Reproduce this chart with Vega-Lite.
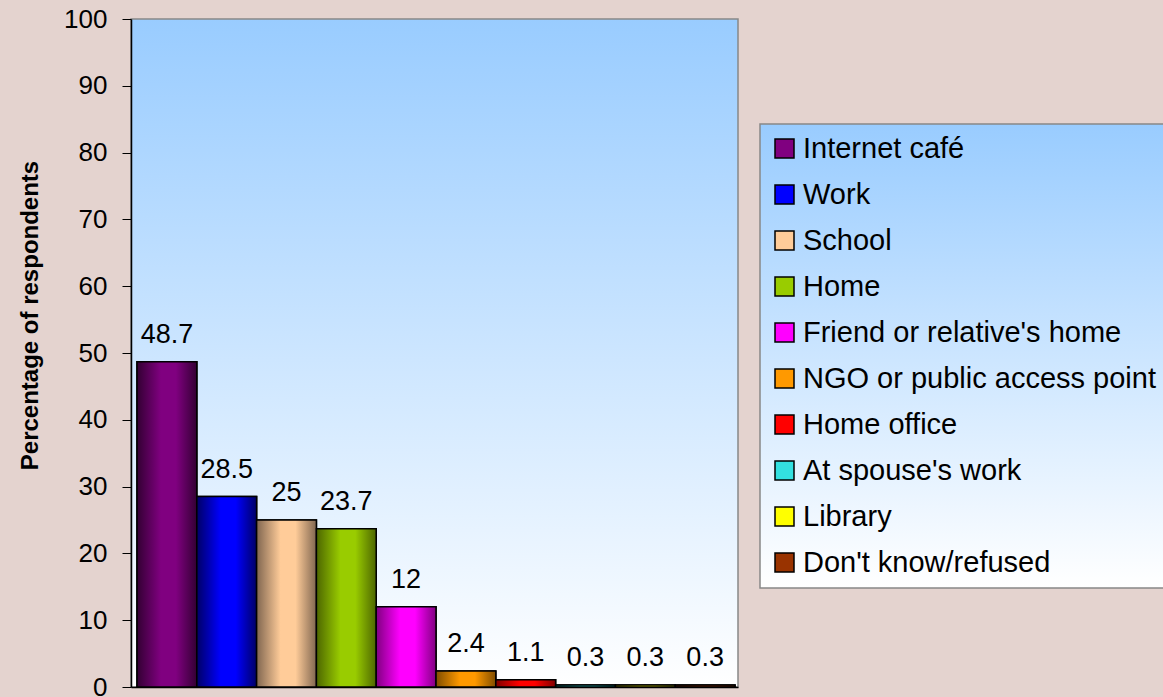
{
  "$schema": "https://vega.github.io/schema/vega-lite/v6.json",
  "autosize": "none",
  "width": 607,
  "height": 668,
  "padding": {"left": 131, "top": 19, "right": 425, "bottom": 10},
  "background": "#e4d3cf",
  "data": {
    "values": [
      {"place": "Internet café", "value": 48.7},
      {"place": "Work", "value": 28.5},
      {"place": "School", "value": 25},
      {"place": "Home", "value": 23.7},
      {"place": "Friend or relative's home", "value": 12},
      {"place": "NGO or public access point", "value": 2.4},
      {"place": "Home office", "value": 1.1},
      {"place": "At spouse's work", "value": 0.3},
      {"place": "Library", "value": 0.3},
      {"place": "Don't know/refused", "value": 0.3}
    ]
  },
  "encoding": {
    "x": {
      "field": "place",
      "type": "nominal",
      "sort": null,
      "scale": {"paddingInner": 0, "paddingOuter": 0.075, "align": 0.67},
      "axis": {"labels": false, "ticks": false, "title": null, "domainColor": "black", "domainWidth": 1.5}
    },
    "y": {
      "field": "value",
      "type": "quantitative",
      "scale": {"domain": [0, 100], "nice": false},
      "axis": {
        "values": [0, 10, 20, 30, 40, 50, 60, 70, 80, 90, 100],
        "title": "Percentage of respondents",
        "titleFont": "Liberation Sans",
        "titleFontSize": 24,
        "titleFontWeight": "bold",
        "titleColor": "black",
        "titlePadding": 21,
        "titleY": 296,
        "labelFont": "Liberation Sans",
        "labelFontSize": 26,
        "labelColor": "black",
        "labelPadding": 15,
        "tickSize": 9,
        "tickColor": "black",
        "domainColor": "black",
        "domainWidth": 1.5,
        "grid": false
      }
    }
  },
  "layer": [
    {
      "mark": {"type": "bar", "stroke": "black", "strokeWidth": 1.5},
      "encoding": {
        "color": {
          "field": "place",
          "type": "nominal",
          "scale": {
            "domain": ["Internet café", "Work", "School", "Home", "Friend or relative's home", "NGO or public access point", "Home office", "At spouse's work", "Library", "Don't know/refused"],
            "range": ["#800080", "#0000ff", "#ffcc99", "#99cc00", "#ff00ff", "#ff9900", "#ff0000", "#33e0e0", "#ffff00", "#993300"]
          },
          "legend": {
            "title": null,
            "orient": "none",
            "legendX": 629,
            "legendY": 105,
            "symbolType": "square",
            "symbolSize": 361,
            "symbolStrokeColor": "black",
            "symbolStrokeWidth": 1.5,
            "symbolOpacity": 1,
            "labelFont": "Liberation Sans",
            "labelFontSize": 29,
            "labelColor": "black",
            "labelOffset": 4,
            "labelLimit": 500,
            "rowPadding": 16,
            "padding": 10,
            "strokeColor": "#888888",
            "encode": {
              "legend": {
                "update": {
                  "fill": {"value": {"gradient": "linear", "x1": 0, "y1": 0, "x2": 0, "y2": 1, "stops": [{"offset": 0, "color": "#99ccff"}, {"offset": 1, "color": "#ffffff"}]}},
                  "stroke": {"value": "#888888"},
                  "strokeWidth": {"value": 1.5}
                }
              }
            }
          }
        }
      }
    },
    {
      "transform": [{"filter": {"field": "place", "equal": "Internet café"}}],
      "mark": {"type": "bar", "stroke": "black", "strokeWidth": 1.5, "fill": {"gradient": "linear", "x1": 0, "y1": 0, "x2": 1, "y2": 0, "stops": [{"offset": 0, "color": "#330033"}, {"offset": 0.4, "color": "#800080"}, {"offset": 0.65, "color": "#800080"}, {"offset": 1, "color": "#330033"}]}}
    },
    {
      "transform": [{"filter": {"field": "place", "equal": "Work"}}],
      "mark": {"type": "bar", "stroke": "black", "strokeWidth": 1.5, "fill": {"gradient": "linear", "x1": 0, "y1": 0, "x2": 1, "y2": 0, "stops": [{"offset": 0, "color": "#000066"}, {"offset": 0.4, "color": "#0000ff"}, {"offset": 0.65, "color": "#0000ff"}, {"offset": 1, "color": "#000066"}]}}
    },
    {
      "transform": [{"filter": {"field": "place", "equal": "School"}}],
      "mark": {"type": "bar", "stroke": "black", "strokeWidth": 1.5, "fill": {"gradient": "linear", "x1": 0, "y1": 0, "x2": 1, "y2": 0, "stops": [{"offset": 0, "color": "#806650"}, {"offset": 0.4, "color": "#ffcc99"}, {"offset": 0.65, "color": "#ffcc99"}, {"offset": 1, "color": "#806650"}]}}
    },
    {
      "transform": [{"filter": {"field": "place", "equal": "Home"}}],
      "mark": {"type": "bar", "stroke": "black", "strokeWidth": 1.5, "fill": {"gradient": "linear", "x1": 0, "y1": 0, "x2": 1, "y2": 0, "stops": [{"offset": 0, "color": "#4d6600"}, {"offset": 0.4, "color": "#99cc00"}, {"offset": 0.65, "color": "#99cc00"}, {"offset": 1, "color": "#4d6600"}]}}
    },
    {
      "transform": [{"filter": {"field": "place", "equal": "Friend or relative's home"}}],
      "mark": {"type": "bar", "stroke": "black", "strokeWidth": 1.5, "fill": {"gradient": "linear", "x1": 0, "y1": 0, "x2": 1, "y2": 0, "stops": [{"offset": 0, "color": "#800080"}, {"offset": 0.4, "color": "#ff00ff"}, {"offset": 0.65, "color": "#ff00ff"}, {"offset": 1, "color": "#800080"}]}}
    },
    {
      "transform": [{"filter": {"field": "place", "equal": "NGO or public access point"}}],
      "mark": {"type": "bar", "stroke": "black", "strokeWidth": 1.5, "fill": {"gradient": "linear", "x1": 0, "y1": 0, "x2": 1, "y2": 0, "stops": [{"offset": 0, "color": "#804d00"}, {"offset": 0.4, "color": "#ff9900"}, {"offset": 0.65, "color": "#ff9900"}, {"offset": 1, "color": "#804d00"}]}}
    },
    {
      "transform": [{"filter": {"field": "place", "equal": "Home office"}}],
      "mark": {"type": "bar", "stroke": "black", "strokeWidth": 1.5, "fill": {"gradient": "linear", "x1": 0, "y1": 0, "x2": 1, "y2": 0, "stops": [{"offset": 0, "color": "#800000"}, {"offset": 0.4, "color": "#ff0000"}, {"offset": 0.65, "color": "#ff0000"}, {"offset": 1, "color": "#800000"}]}}
    },
    {
      "transform": [{"filter": {"field": "place", "equal": "At spouse's work"}}],
      "mark": {"type": "bar", "stroke": "black", "strokeWidth": 1.5, "fill": {"gradient": "linear", "x1": 0, "y1": 0, "x2": 1, "y2": 0, "stops": [{"offset": 0, "color": "#006666"}, {"offset": 0.4, "color": "#33e0e0"}, {"offset": 0.65, "color": "#33e0e0"}, {"offset": 1, "color": "#006666"}]}}
    },
    {
      "transform": [{"filter": {"field": "place", "equal": "Library"}}],
      "mark": {"type": "bar", "stroke": "black", "strokeWidth": 1.5, "fill": {"gradient": "linear", "x1": 0, "y1": 0, "x2": 1, "y2": 0, "stops": [{"offset": 0, "color": "#808000"}, {"offset": 0.4, "color": "#ffff00"}, {"offset": 0.65, "color": "#ffff00"}, {"offset": 1, "color": "#808000"}]}}
    },
    {
      "transform": [{"filter": {"field": "place", "equal": "Don't know/refused"}}],
      "mark": {"type": "bar", "stroke": "black", "strokeWidth": 1.5, "fill": {"gradient": "linear", "x1": 0, "y1": 0, "x2": 1, "y2": 0, "stops": [{"offset": 0, "color": "#4d1a00"}, {"offset": 0.4, "color": "#993300"}, {"offset": 0.65, "color": "#993300"}, {"offset": 1, "color": "#4d1a00"}]}}
    },
    {
      "mark": {"type": "text", "baseline": "alphabetic", "dy": -19, "font": "Liberation Sans", "fontSize": 27, "fill": "black"},
      "encoding": {
        "text": {"field": "value", "type": "quantitative"}
      }
    }
  ],
  "config": {
    "view": {
      "stroke": "#888888",
      "strokeWidth": 1.5,
      "fill": {"gradient": "linear", "x1": 0, "y1": 0, "x2": 0, "y2": 1, "stops": [{"offset": 0, "color": "#99ccff"}, {"offset": 1, "color": "#ffffff"}]}
    }
  }
}
